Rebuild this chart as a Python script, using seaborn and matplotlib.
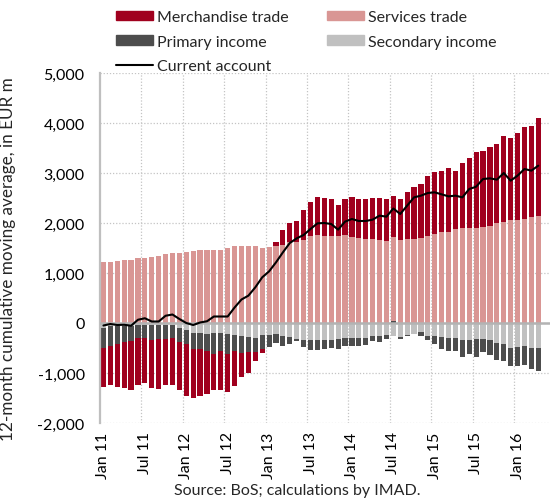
import numpy as np
import pandas as pd
import seaborn as sns
import matplotlib.pyplot as plt
from matplotlib.patches import Patch
from matplotlib.lines import Line2D
from matplotlib.ticker import FuncFormatter

# monthly, Jan 2011 - Apr 2016 (12-month cumulative moving average, EUR m)
months = pd.date_range("2011-01-01", periods=64, freq="MS").strftime("%b %y").tolist()

merchandise = [-787, -787, -867, -906, -973, -940, -907, -953, -1007, -927,
               -933, -967, -1040, -980, -947, -860, -734, -787, -760, -693,
               -487, -413, -194, -80, 0, 94, 293, 387, 413, 593,
               680, 753, 746, 733, 613, 720, 807, 787, 800, 813,
               840, 840, 827, 813, 933, 1040, 1087, 1214, 1240, 1227,
               1280, 1167, 1286, 1400, 1506, 1520, 1566, 1587, 1720, 1633,
               1740, 1847, 1834, 1974]
services = [1227, 1227, 1233, 1253, 1267, 1293, 1300, 1320, 1347, 1373,
            1400, 1400, 1427, 1440, 1460, 1460, 1460, 1453, 1493, 1533,
            1547, 1547, 1533, 1507, 1520, 1533, 1560, 1613, 1627, 1660,
            1733, 1760, 1747, 1747, 1747, 1760, 1713, 1693, 1680, 1680,
            1653, 1640, 1670, 1667, 1680, 1680, 1693, 1733, 1787, 1813,
            1813, 1880, 1907, 1907, 1907, 1927, 1947, 2000, 2027, 2060,
            2060, 2080, 2113, 2133]
primary = [-400, -386, -353, -327, -293, -260, -260, -314, -287, -280,
           -267, -287, -280, -313, -320, -340, -413, -360, -400, -327,
           -340, -300, -280, -266, -233, -173, -186, -133, -40, -147,
           -207, -186, -166, -174, -193, -167, -160, -160, -147, -100,
           -113, -80, 50, -40, -34, -10, -73, -87, -160, -233,
           -267, -267, -347, -280, -367, -267, -286, -347, -333, -374,
           -387, -380, -434, -474]
secondary = [-93, -67, -60, -60, -67, -33, -33, -33, -33, -33,
             -33, -93, -133, -200, -200, -227, -200, -193, -213, -240,
             -253, -280, -293, -247, -247, -227, -267, -280, -320, -333,
             -333, -347, -347, -333, -320, -293, -300, -293, -293, -260,
             -260, -240, -267, -280, -233, -213, -180, -260, -267, -280,
             -293, -293, -333, -333, -313, -313, -347, -400, -427, -493,
             -480, -467, -493, -493]
current_account = [-50, -20, -40, -35, -55, 65, 95, 30, 30, 145,
                   170, 80, 0, -40, 10, 35, 130, 130, 130, 310,
                   470, 547, 713, 913, 1033, 1213, 1413, 1600, 1693, 1760,
                   1880, 1993, 2000, 1980, 1867, 2027, 2080, 2040, 2040, 2067,
                   2147, 2127, 2290, 2180, 2347, 2513, 2547, 2600, 2613, 2573,
                   2533, 2547, 2513, 2680, 2727, 2880, 2893, 2867, 3000, 2847,
                   2947, 3080, 3047, 3147]

RED = "#A0001E"
PINK = "#D99694"
DARK = "#4D4D4D"
LIGHT = "#C0C0C0"

sns.set_theme(style="white")
plt.rcParams["font.family"] = ["Lato", "DejaVu Sans"]
plt.rcParams["font.size"] = 11.5

fig = plt.figure(figsize=(5.5, 5.02), dpi=100)
ax = fig.add_axes([100 / 550, 78 / 502, 450 / 550, 350 / 502])

idx = np.arange(len(months))
pos_base = np.zeros(len(idx))
neg_base = np.zeros(len(idx))
# stacking order as in the original: secondary, primary, services, merchandise
for vals, color in [(secondary, LIGHT), (primary, DARK), (services, PINK), (merchandise, RED)]:
    vals = np.array(vals, dtype=float)
    bottom = np.where(vals >= 0, pos_base, neg_base)
    sns.barplot(x=idx, y=vals, bottom=bottom, color=color, saturation=1,
                width=0.75, linewidth=0, errorbar=None, ax=ax, zorder=2)
    pos_base += np.clip(vals, 0, None)
    neg_base += np.clip(vals, None, 0)

ax.axhline(0, color="#b3b3b3", lw=1.8, zorder=3)
sns.lineplot(x=idx, y=current_account, color="black", linewidth=1.5, ax=ax, zorder=4)

ax.set_xlim(-0.5, 64.7)
ax.set_ylim(-2000, 5000)
ax.set_yticks(range(-2000, 5001, 1000))
ax.yaxis.set_major_formatter(FuncFormatter(lambda v, p: f"{v:,.0f}"))
ax.set_xticks(idx[::6])
ax.set_xticklabels(months[::6], rotation=90)
ax.set_xticks(np.arange(5.5, 64, 6), minor=True)
ax.tick_params(axis="both", which="both", length=0, labelsize=11.5, colors="black")
ax.tick_params(axis="y", pad=11)
ax.tick_params(axis="x", pad=6)

ax.set_axisbelow(True)
ax.grid(axis="y", which="major", linestyle=(0, (1, 1.5)), color="#c4c4c4", linewidth=0.9)
ax.grid(axis="x", which="minor", linestyle=(0, (1, 1.5)), color="#c4c4c4", linewidth=0.9)
ax.grid(axis="x", which="major", visible=False)

for s in ["top", "right", "bottom"]:
    ax.spines[s].set_visible(False)
ax.spines["left"].set_color("#bfbfbf")
ax.spines["left"].set_linewidth(1.6)

ax.set_xlabel("")
ax.set_ylabel("12-month cumulative moving average, in EUR m", fontsize=12.3)
ax.yaxis.set_label_coords(-0.186, 0.47)

h1 = [Patch(color=RED, label="Merchandise trade"),
      Patch(color=DARK, label="Primary income"),
      Line2D([], [], color="black", lw=1.5, label="Current account")]
h2 = [Patch(color=PINK, label="Services trade"),
      Patch(color=LIGHT, label="Secondary income")]
leg_kw = dict(frameon=False, fontsize=11.5, handlelength=2.3, handleheight=0.55,
              handletextpad=0.25, labelspacing=0.66, borderpad=0, borderaxespad=0,
              loc="upper left")
fig.legend(handles=h1, bbox_to_anchor=(116 / 550, 1 - 11 / 502), **leg_kw)
fig.legend(handles=h2, bbox_to_anchor=(327 / 550, 1 - 11 / 502), **leg_kw)

fig.text(297 / 550, 1 - 491 / 502, "Source: BoS; calculations by IMAD.",
         ha="center", va="center", fontsize=11.5)

fig.savefig("out.png", dpi=100)
